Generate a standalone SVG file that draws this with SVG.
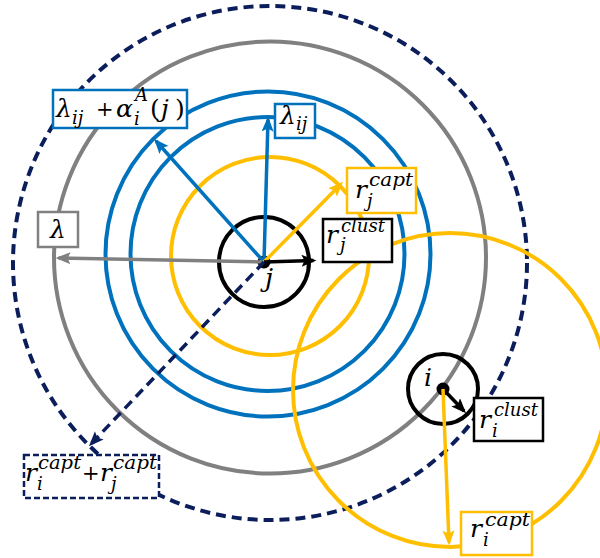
<svg xmlns="http://www.w3.org/2000/svg" width="600" height="558" viewBox="0 0 600 558">
<style>
.c{fill:none;stroke-width:4}
.bl{stroke:#0072BD}.gr{stroke:#808080}.ye{stroke:#FFBF00}.nv{stroke:#0B1E5B}.bk{stroke:#000}
.dash{stroke-dasharray:10 6}
.box{fill:#fff;stroke-width:2.5}
.ar{stroke-width:3.5;fill:none}
text{font-family:'DejaVu Serif','Liberation Serif',serif;font-style:italic;fill:#000}
.M{font-size:25px}.S{font-size:18px}.P{font-size:21px;font-style:normal}.u{font-style:normal}
</style>
<defs>
<marker id="hBl" markerUnits="userSpaceOnUse" markerWidth="16" markerHeight="14" refX="12" refY="6" orient="auto"><path d="M0,0 L15,6 L0,12 L3,6 z" fill="#0072BD"/></marker>
<marker id="hGr" markerUnits="userSpaceOnUse" markerWidth="16" markerHeight="14" refX="12" refY="6" orient="auto"><path d="M0,0 L15,6 L0,12 L3,6 z" fill="#808080"/></marker>
<marker id="hYe" markerUnits="userSpaceOnUse" markerWidth="16" markerHeight="14" refX="12" refY="6" orient="auto"><path d="M0,0 L15,6 L0,12 L3,6 z" fill="#FFBF00"/></marker>
<marker id="hNv" markerUnits="userSpaceOnUse" markerWidth="16" markerHeight="14" refX="12" refY="6" orient="auto"><path d="M0,0 L15,6 L0,12 L3,6 z" fill="#0B1E5B"/></marker>
<marker id="hBk" markerUnits="userSpaceOnUse" markerWidth="16" markerHeight="14" refX="12" refY="6" orient="auto"><path d="M0,0 L15,6 L0,12 L3,6 z" fill="#000"/></marker>
</defs>
<g id="circles">
<circle class="c nv dash" cx="270" cy="263" r="257"/>
<circle class="c gr" cx="270" cy="257.5" r="216"/>
<circle class="c bl" cx="268" cy="254" r="162.5"/>
<circle class="c bl" cx="267.5" cy="254" r="137"/>
<circle class="c ye" cx="270" cy="256" r="99"/>
<circle class="c ye" cx="450" cy="390" r="157"/>
</g>
<g id="node-j">
<circle class="c bk" cx="264" cy="262" r="45"/>
<circle cx="264" cy="262" r="6.5" fill="#000"/>
<text x="265" y="287" style="font-size:26px">j</text>
</g>
<g id="node-i">
<circle class="c bk" cx="443" cy="389" r="35"/>
<circle cx="443" cy="389" r="6.5" fill="#000"/>
<text x="424" y="386" style="font-size:25px">i</text>
</g>
<g id="connectors">
<line class="ar bl" x1="264" y1="262" x2="156" y2="141" marker-end="url(#hBl)"/>
<line class="ar bl" x1="264" y1="262" x2="268" y2="119.5" marker-end="url(#hBl)"/>
<line class="ar gr" x1="264" y1="262" x2="58.5" y2="258" marker-end="url(#hGr)"/>
<line class="ar ye" x1="264" y1="262" x2="341" y2="184" marker-end="url(#hYe)"/>
<line class="ar bk" x1="264" y1="262" x2="313.5" y2="260.5" marker-end="url(#hBk)"/>
<line class="ar nv dash" x1="264" y1="262" x2="91" y2="444" marker-end="url(#hNv)"/>
<line class="ar bk" x1="443" y1="389" x2="464" y2="411" marker-end="url(#hBk)"/>
<line class="ar ye" x1="443" y1="389" x2="449" y2="542.5" marker-end="url(#hYe)"/>
</g>
<g id="label-lambda-alpha">
<rect class="box bl" x="53" y="90" width="134" height="38"/>
<text class="M" x="56" y="117">λ</text>
<text class="S" x="72" y="124">ij</text>
<text class="P" x="96" y="116">+</text>
<text class="M" x="116" y="117">α</text>
<text class="S" x="135" y="101">A</text>
<text class="S" x="134" y="125">i</text>
<text class="M u" x="150" y="117">(</text>
<text class="M" x="161" y="117">j</text>
<text class="M u" x="175" y="117">)</text>
</g>
<g id="label-lambda-ij">
<rect class="box bl" x="275" y="104" width="40" height="34"/>
<text class="M" x="280" y="124">λ</text>
<text class="S" x="296" y="130">ij</text>
</g>
<g id="label-lambda">
<rect class="box gr" x="38" y="212" width="40" height="35"/>
<text class="M" x="58" y="238" text-anchor="middle">λ</text>
</g>
<g id="label-rj-capt">
<rect class="box ye" x="347" y="168" width="69" height="45"/>
<text class="M" x="355" y="198">r</text>
<text class="S" x="369" y="186" textLength="44" lengthAdjust="spacingAndGlyphs">capt</text>
<text class="S" x="367" y="207">j</text>
</g>
<g id="label-rj-clust">
<rect class="box bk" x="323" y="219" width="69" height="43"/>
<text class="M" x="326" y="243">r</text>
<text class="S" x="341" y="232" textLength="44" lengthAdjust="spacingAndGlyphs">clust</text>
<text class="S" x="340" y="251">j</text>
</g>
<g id="label-ri-clust">
<rect class="box bk" x="474" y="398" width="69" height="43"/>
<text class="M" x="479" y="428">r</text>
<text class="S" x="494" y="416" textLength="44" lengthAdjust="spacingAndGlyphs">clust</text>
<text class="S" x="492" y="437">i</text>
</g>
<g id="label-ri-capt">
<rect class="box ye" x="461" y="512" width="71" height="43"/>
<text class="M" x="470" y="537">r</text>
<text class="S" x="485" y="526" textLength="45" lengthAdjust="spacingAndGlyphs">capt</text>
<text class="S" x="483" y="546">i</text>
</g>
<g id="label-sum">
<rect class="box nv" x="24" y="455" width="135" height="43" style="stroke-dasharray:6 3"/>
<text class="M" x="25" y="481">r</text>
<text class="S" x="38" y="469" textLength="43" lengthAdjust="spacingAndGlyphs">capt</text>
<text class="S" x="37" y="490">i</text>
<text class="P" x="82" y="480">+</text>
<text class="M" x="100" y="481">r</text>
<text class="S" x="113" y="469" textLength="44" lengthAdjust="spacingAndGlyphs">capt</text>
<text class="S" x="111" y="490">j</text>
</g>
</svg>
